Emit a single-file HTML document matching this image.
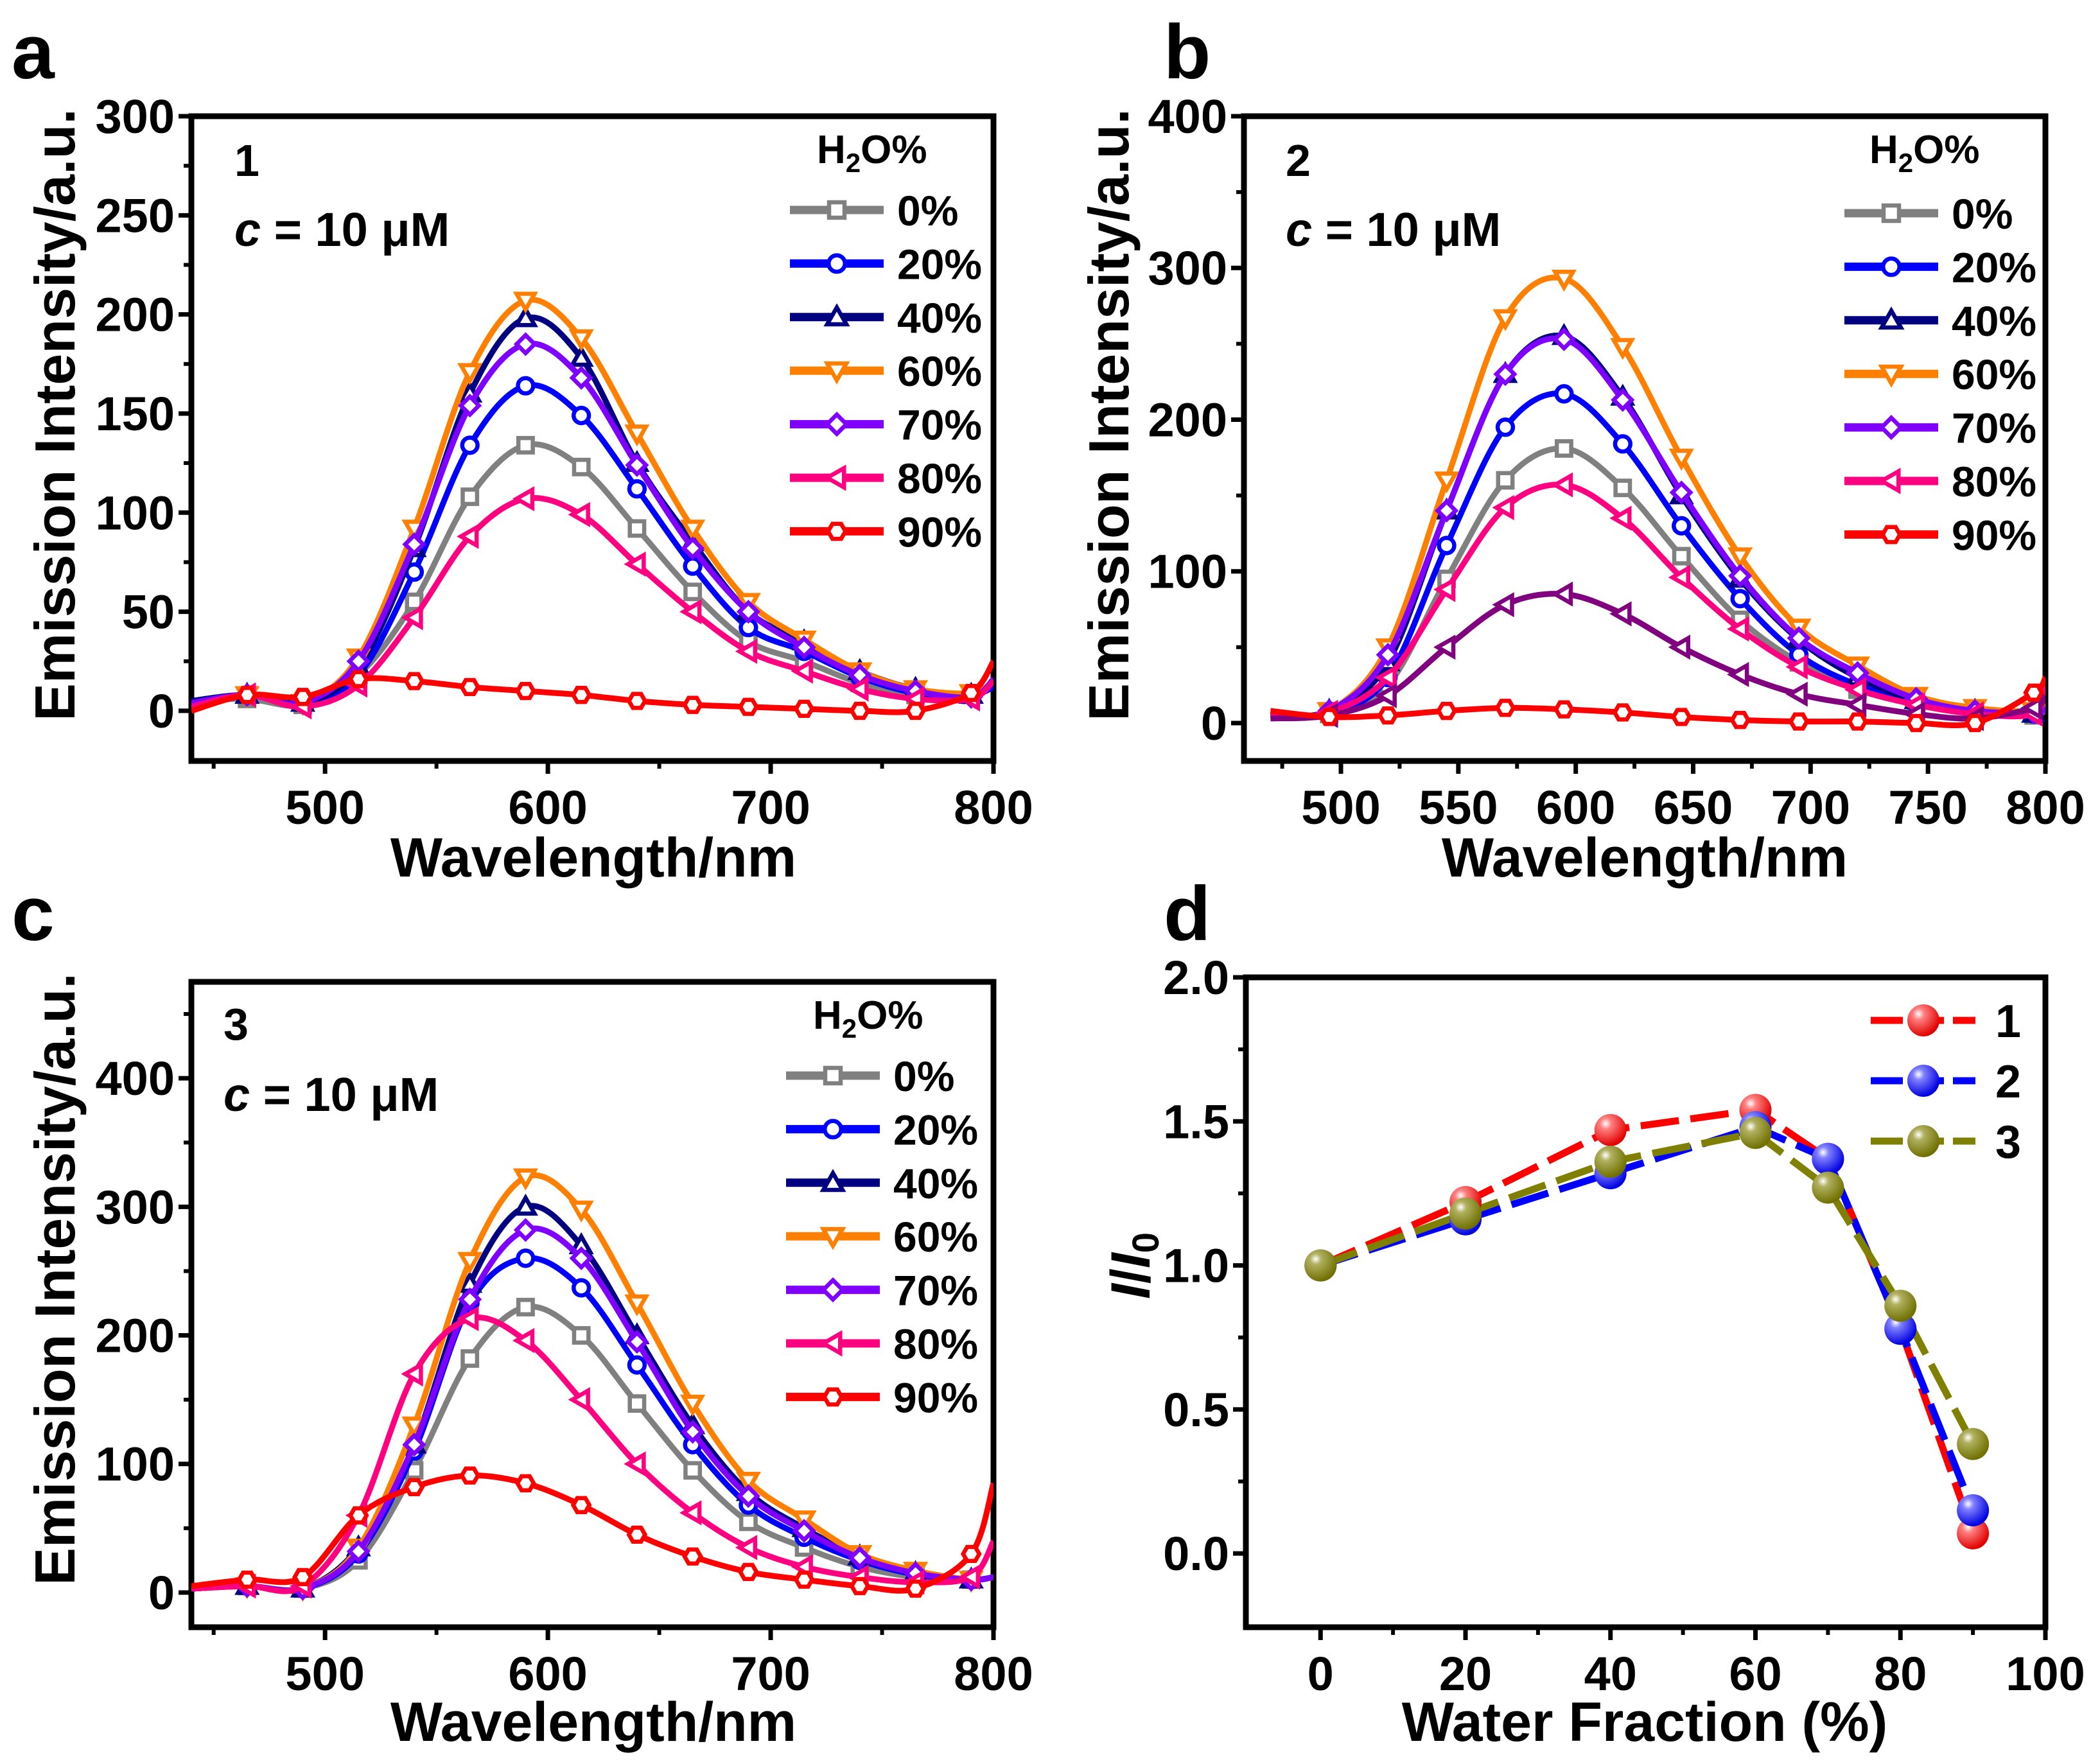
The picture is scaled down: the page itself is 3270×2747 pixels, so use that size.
<!DOCTYPE html>
<html><head><meta charset="utf-8"><style>
html,body{margin:0;padding:0;background:#fff}
svg{display:block}
text{font-family:"Liberation Sans",Arial,sans-serif;font-weight:bold;fill:#000}
</style></head><body>
<svg id="fig" width="3270" height="2747" viewBox="0 0 3270 2747" xmlns="http://www.w3.org/2000/svg">
<defs>
<radialGradient id="gR" cx="0.35" cy="0.3" r="0.7"><stop offset="0" stop-color="#fff"/><stop offset="0.25" stop-color="#ff8080"/><stop offset="1" stop-color="#e00000"/></radialGradient>
<radialGradient id="gB" cx="0.35" cy="0.3" r="0.7"><stop offset="0" stop-color="#fff"/><stop offset="0.25" stop-color="#8080ff"/><stop offset="1" stop-color="#0000e0"/></radialGradient>
<radialGradient id="gO" cx="0.35" cy="0.3" r="0.7"><stop offset="0" stop-color="#fff"/><stop offset="0.25" stop-color="#b0b060"/><stop offset="1" stop-color="#707000"/></radialGradient>
</defs>
</svg>
<script>
// ---------- data ----------
const xA = [440,465,490,515,540,565,590,615,640,665,690,715,740,765,790,800];
const a0 = [5,6,3,18,55,108,134,123,92,60,35,25,14,8,8,12];
const a20 = [5,8,4,18,70,134,164,149,112,73,42,30,17,9,8,12];
const a40 = [5,8,4,22,82,160,198,178,125,85,50,35,20,11,8,15];
const a60 = [3,8,4,27,92,171,207,188,140,92,55,36,20,11,9,15];
const a70 = [4,8,4,25,84,154,185,168,124,82,50,32,18,10,7,16];
const a80 = [2,8,2,13,47,88,107,99,74,50,30,20,11,6,6,15];
const a90 = [0,8,7,16,15,12,10,8,5,3,2,1,0,0,9,25];

const xB = [470,495,520,545,570,595,620,645,670,695,720,745,770,795,800];
const b0 = [5,6,25,95,160,181,155,110,68,40,22,12,6,5,10];
const b20 = [5,7,30,117,195,217,184,130,82,45,25,13,7,6,12];
const b40 = [5,8,40,140,230,255,215,150,95,55,30,15,8,6,12];
const b60 = [5,8,50,160,267,293,248,175,110,63,38,18,10,8,15];
const b70 = [5,8,45,140,230,253,213,152,97,56,33,16,8,7,10];
const b80 = [4,7,30,88,142,157,135,96,62,37,22,12,6,6,25];
const bX = [3,5,18,50,78,85,72,50,32,19,12,6,3,10,18];
const b90 = [8,4,5,8,10,9,7,4,2,1,1,0,0,20,30];

const xC = [440,465,490,515,540,565,590,615,640,665,690,715,740,765,790,800];
const c0 = [3,5,3,25,95,182,222,200,147,95,55,35,20,12,10,12];
const c20 = [3,5,3,30,110,225,260,237,177,115,68,43,25,14,10,12];
const c40 = [3,5,3,35,115,240,300,270,200,130,78,50,28,15,10,12];
const c60 = [3,5,3,35,130,258,323,298,225,147,87,57,30,17,10,12];
const c70 = [3,5,3,32,115,228,282,260,195,125,75,48,27,15,10,12];
const c80 = [3,5,5,60,170,213,196,150,100,62,35,20,12,8,12,40];
const c90 = [5,10,12,60,82,91,85,68,45,28,16,10,5,3,30,85];

const xD = [0,20,40,60,70,80,90];
const d1 = [1.0,1.22,1.47,1.54,1.37,0.78,0.07];
const d2 = [1.0,1.16,1.32,1.48,1.37,0.78,0.15];
const d3 = [1.0,1.18,1.36,1.46,1.27,0.86,0.38];

const ticksWl = [500,600,700,800];
const ticksWlB = [500,550,600,650,700,750,800];
const ticksYA = [0,50,100,150,200,250,300];
const ticksYB = [0,100,200,300,400];
const ticksYC = [0,100,200,300,400];
const ticksXD = [0,20,40,60,80,100];
const ticksYD = ["0.0","0.5","1.0","1.5","2.0"];
const legLabels = ["0%","20%","40%","60%","70%","80%","90%"];

// ---------- helpers ----------
const svg = document.getElementById('fig');
const NS = 'http://www.w3.org/2000/svg';
function mk(tag, attrs, parent){
  const e = document.createElementNS(NS, tag);
  for (const k in attrs) e.setAttribute(k, attrs[k]);
  (parent||svg).appendChild(e); return e;
}
function scale(d0,d1,r0,r1){return v=>r0+(v-d0)/(d1-d0)*(r1-r0);}
function spline(pts){
  let d = 'M'+pts[0][0]+','+pts[0][1];
  for (let i=0;i<pts.length-1;i++){
    const p0=pts[Math.max(0,i-1)],p1=pts[i],p2=pts[i+1],p3=pts[Math.min(pts.length-1,i+2)];
    const c1x=p1[0]+(p2[0]-p0[0])/6,c1y=p1[1]+(p2[1]-p0[1])/6;
    const c2x=p2[0]-(p3[0]-p1[0])/6,c2y=p2[1]-(p3[1]-p1[1])/6;
    d+=' C'+c1x+','+c1y+' '+c2x+','+c2y+' '+p2[0]+','+p2[1];
  }
  return d;
}
function marker(g, type, x, y, color, s){
  let e;
  const sw = 6.5;
  if (type==='sq') e = mk('rect',{x:x-s*0.8,y:y-s*0.8,width:s*1.6,height:s*1.6,fill:'#fff',stroke:color,'stroke-width':sw},g);
  else if (type==='ci') e = mk('circle',{cx:x,cy:y,r:s*0.85,fill:'#fff',stroke:color,'stroke-width':sw},g);
  else if (type==='tu') e = mk('polygon',{points:`${x},${y-s} ${x-s},${y+s*0.75} ${x+s},${y+s*0.75}`,fill:'#fff',stroke:color,'stroke-width':sw},g);
  else if (type==='td') e = mk('polygon',{points:`${x},${y+s} ${x-s},${y-s*0.75} ${x+s},${y-s*0.75}`,fill:'#fff',stroke:color,'stroke-width':sw},g);
  else if (type==='di') e = mk('polygon',{points:`${x},${y-s} ${x+s},${y} ${x},${y+s} ${x-s},${y}`,fill:'#fff',stroke:color,'stroke-width':sw},g);
  else if (type==='tl') e = mk('polygon',{points:`${x-s},${y} ${x+s*0.75},${y-s} ${x+s*0.75},${y+s}`,fill:'#fff',stroke:color,'stroke-width':sw},g);
  else { const pts=[];for(let k=0;k<6;k++){const a=Math.PI/3*k;pts.push((x+s*0.9*Math.cos(a))+','+(y+s*0.9*Math.sin(a)));}
    e = mk('polygon',{points:pts.join(' '),fill:'#fff',stroke:color,'stroke-width':sw},g); }
  
  
  return e;
}
function frame(id, L,R,T,B, xs, ys, xticks, yticks, ylabels, xminor, yminor, xmin, xmax, ymin, ymax){
  const g = mk('g',{});
  
  
  xticks.forEach((v,i)=>{
    const x = xs(v);
    mk('line',{x1:x,y1:B,x2:x,y2:B+20,stroke:'#000','stroke-width':7},g);
    const t = mk('text',{x:x,y:B+98,'font-size':74,'text-anchor':'middle'},g);
    t.textContent = v;
    
    
  });
  for (let v=xminor[0]; v<=xmax; v+=xminor[1]){ if(v<xmin) continue;
    mk('line',{x1:xs(v),y1:B,x2:xs(v),y2:B+12,stroke:'#000','stroke-width':6},g); }
  yticks.forEach((v,i)=>{
    const y = ys(+v);
    mk('line',{x1:L,y1:y,x2:L-20,y2:y,stroke:'#000','stroke-width':7},g);
    const t = mk('text',{x:L-26,y:y+26,'font-size':74,'text-anchor':'end'},g);
    t.textContent = ylabels[i];
    
    
  });
  for (let v=yminor[0]; v<=ymax; v+=yminor[1]){ if(v<ymin) continue;
    mk('line',{x1:L,y1:ys(v),x2:L-12,y2:ys(v),stroke:'#000','stroke-width':6},g); }
  const r = mk('rect',{x:L,y:T,width:R-L,height:B-T,fill:'none',stroke:'#000','stroke-width':9},g);
  
  
  const cp = mk('clipPath',{id:'clip-'+id});
  mk('rect',{x:L,y:T,width:R-L,height:B-T},cp);
}
function text(str,x,y,size,name,extra){
  const t = mk('text',Object.assign({x:x,y:y,'font-size':size},extra||{}));
  t.textContent = str;
  
  
  return t;
}
const colors = ['#808080','#0000ff','#000080','#ff8000','#8000ff','#ff0080','#ff0000'];
const mtypes = ['sq','ci','tu','td','di','tl','hx'];

function spectra(id, L,R,T,B, xd, yd, xs, series, extra){
  const g = mk('g',{'clip-path':'url(#clip-'+id+')'});
  
  
  const sx = scale(xd[0],xd[1],L,R), sy = scale(yd[0],yd[1],B,T);
  const list = series.map((s,i)=>({s:s,c:colors[i],m:mtypes[i],n:legLabels[i]}));
  if (extra) list.splice(6,0,{s:extra,c:'#800080',m:'tl',n:'extra'});
  list.forEach(o=>{
    const pts = xs.map((x,i)=>[sx(x),sy(o.s[i])]);
    const p = mk('path',{d:spline(pts),fill:'none',stroke:o.c,'stroke-width':9,'stroke-linejoin':'round'},g);
    
    
    xs.forEach((x,i)=>{ if (x<800 && i>0) marker(g,o.m,sx(x),sy(o.s[i]),o.c,14); });
  });
  return [sx,sy];
}
function legend(id, lx1, lx2, tx, y0, hx, hy){
  const g = mk('g',{});
  
  
  const h = mk('text',{x:hx,y:hy,'font-size':62},g);
  h.innerHTML = 'H<tspan font-size="42" dy="14">2</tspan><tspan dy="-14">O%</tspan>';
  
  
  legLabels.forEach((lab,i)=>{
    const y = y0 + i*83.4;
    const l = mk('line',{x1:lx1,y1:y,x2:lx2,y2:y,stroke:colors[i],'stroke-width':13},g);
    
    
    marker(g,mtypes[i],(lx1+lx2)/2,y,colors[i],15);
    const t = mk('text',{x:tx,y:y+24,'font-size':66},g);
    t.textContent = lab;
    
    
  });
}
function cLabel(x,y,name){
  const t = mk('text',{x:x,y:y,'font-size':74});
  t.innerHTML = '<tspan font-style="italic">c</tspan> = 10 μM';
  
  
}

// ---------- panel a ----------
(function(){
  const L=298,R=1547,T=181,B=1185, xd=[440,800], yd=[-25.3,300];
  const xs=scale(xd[0],xd[1],L,R), ys=scale(yd[0],yd[1],B,T);
  frame('panel-a',L,R,T,B,xs,ys,ticksWl,ticksYA,ticksYA,[450,50],[25,50],440,800,-25,300);
  spectra('panel-a',L,R,T,B,xd,yd,xA,[a0,a20,a40,a60,a70,a80,a90]);
  legend('panel-a',1230,1376,1397,327,1272,254);
  text('a',18,122,120,'panel-label-a');
  text('1',365,274,70,'sample-label-1');
  cLabel(365,383,'concentration-label');
  text('Emission Intensity/a.u.',0,0,88,'y-axis-title',{transform:'translate(116,646) rotate(-90)','text-anchor':'middle'});
  text('Wavelength/nm',924,1365,86,'x-axis-title',{'text-anchor':'middle'});
})();
// ---------- panel b ----------
(function(){
  const L=1937,R=3185,T=181,B=1185, xd=[458.7,800], yd=[-25,400];
  const xs=scale(xd[0],xd[1],L,R), ys=scale(yd[0],yd[1],B,T);
  frame('panel-b',L,R,T,B,xs,ys,ticksWlB,ticksYB,ticksYB,[475,50],[50,100],459,800,-25,400);
  spectra('panel-b',L,R,T,B,xd,yd,xB,[b0,b20,b40,b60,b70,b80,b90],bX);
  legend('panel-b',2872,3018,3039,332,2911,254);
  text('b',1812,122,120,'panel-label-b');
  text('2',2002,274,70,'sample-label-2');
  cLabel(2002,383,'concentration-label');
  text('Emission Intensity/a.u.',0,0,88,'y-axis-title',{transform:'translate(1757,646) rotate(-90)','text-anchor':'middle'});
  text('Wavelength/nm',2561,1365,86,'x-axis-title',{'text-anchor':'middle'});
})();
// ---------- panel c ----------
(function(){
  const L=298,R=1547,T=1529,B=2534, xd=[440,800], yd=[-27,475];
  const xs=scale(xd[0],xd[1],L,R), ys=scale(yd[0],yd[1],B,T);
  frame('panel-c',L,R,T,B,xs,ys,ticksWl,ticksYC,ticksYC,[450,50],[50,100],440,800,-27,475);
  spectra('panel-c',L,R,T,B,xd,yd,xC,[c0,c20,c40,c60,c70,c80,c90]);
  legend('panel-c',1224,1370,1391,1675,1266,1602);
  text('c',18,1464,120,'panel-label-c');
  text('3',348,1619,70,'sample-label-3');
  cLabel(348,1730,'concentration-label');
  text('Emission Intensity/a.u.',0,0,88,'y-axis-title',{transform:'translate(116,1992) rotate(-90)','text-anchor':'middle'});
  text('Wavelength/nm',924,2711,86,'x-axis-title',{'text-anchor':'middle'});
})();
// ---------- panel d ----------
(function(){
  const L=1940,R=3185,T=1522,B=2534, xd=[-10.3,100], yd=[-0.256,2.0];
  const xs=scale(xd[0],xd[1],L,R), ys=scale(yd[0],yd[1],B,T);
  frame('panel-d',L,R,T,B,xs,ys,ticksXD,ticksYD,ticksYD,[10,20],[0.25,0.5],-10,100,-0.25,2.0);
  const g = mk('g',{});
  
  
  const sets=[[d1,'#ff0000','gR','1'],[d2,'#0000ff','gB','2'],[d3,'#808000','gO','3']];
  sets.forEach(s=>{
    const pts = xD.map((x,i)=>xs(x)+','+ys(s[0][i])).join(' ');
    const l = mk('polyline',{points:pts,fill:'none',stroke:s[1],'stroke-width':11,'stroke-dasharray':'60 18'},g);
    
    
  });
  sets.forEach(s=>{
    xD.forEach((x,i)=>{
      const c = mk('circle',{cx:xs(x),cy:ys(s[0][i]),r:25,fill:'url(#'+s[2]+')'},g);
      
      
    });
  });
  const lg = mk('g',{});
  
  
  [1589,1683,1777].forEach((y,i)=>{
    const s=sets[i];
    const l = mk('line',{x1:2913,y1:y,x2:3076,y2:y,stroke:s[1],'stroke-width':11,'stroke-dasharray':'50 14'},lg);
    
    
    const c = mk('circle',{cx:2995,cy:y,r:25,fill:'url(#'+s[2]+')'},lg);
    
    
    const t = mk('text',{x:3107,y:y+26,'font-size':72},lg);
    t.textContent = s[3];
    
    
  });
  text('d',1812,1464,120,'panel-label-d');
  const yt = mk('text',{transform:'translate(1790,1971) rotate(-90)','font-size':86,'text-anchor':'middle'});
  yt.innerHTML = '<tspan font-style="italic">I</tspan>/<tspan font-style="italic">I</tspan><tspan font-size="58" dy="14">0</tspan>';
  
  
  text('Water Fraction (%)',2561,2711,86,'x-axis-title',{'text-anchor':'middle'});
})();
</script>
</body></html>
